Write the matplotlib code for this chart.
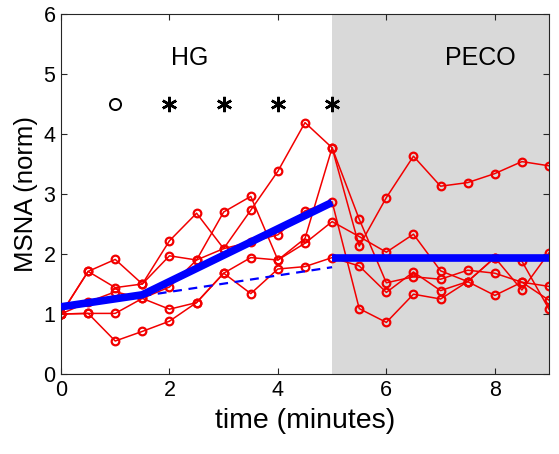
import numpy as np
import matplotlib
matplotlib.use('Agg')
import matplotlib.pyplot as plt

plt.rcParams['font.family'] = ['Liberation Sans', 'DejaVu Sans']

# time in minutes, one sample every 30 s
time = np.arange(0, 9.01, 0.5)

# individual subjects (normalised MSNA)
subj_a = [1.0, 1.71, 1.91, 1.50, 2.22, 2.68, 2.09, 2.73, 3.38, 4.19, 3.77,
          2.13, 2.94, 3.63, 3.13, 3.19, 3.34, 3.54, 3.47]
subj_b = [1.0, 1.71, 1.44, 1.50, 1.97, 1.90, 2.70, 2.96, 1.90, 2.26, 3.77,
          2.58, 1.52, 1.62, 1.58, 1.73, 1.68, 1.53, 1.23]
subj_c = [1.0, 1.20, 1.37, 1.26, 1.45, 1.90, 2.09, 2.20, 2.32, 2.72, 2.87,
          1.09, 0.86, 1.33, 1.25, 1.54, 1.94, 1.40, 2.02]
subj_d = [1.0, 1.01, 1.01, 1.26, 1.08, 1.19, 1.68, 1.94, 1.90, 2.18, 2.54,
          2.29, 2.03, 2.33, 1.72, 1.54, 1.31, 1.53, 1.46]
subj_e = [1.0, 1.01, 0.55, 0.71, 0.88, 1.19, 1.68, 1.34, 1.75, 1.79, 1.94,
          1.80, 1.36, 1.70, 1.39, 1.54, 1.94, 1.88, 1.08]
subjects = [subj_a, subj_b, subj_c, subj_d, subj_e]

# model fits
fit_hg_t = [0, 1.5, 5]
fit_hg_y = [1.12, 1.32, 2.86]
fit_lin_t = [1.5, 5]
fit_lin_y = [1.30, 1.78]
fit_peco_t = [5, 9]
fit_peco_y = [1.93, 1.93]

# significance markers
sig_t = [1, 2, 3, 4, 5]
sig_sym = ['o', '*', '*', '*', '*']
sig_level = 4.5

fig = plt.figure(figsize=(5.59, 4.54), dpi=100)
ax = fig.add_axes([61/559, 80/454, 488/559, 360/454])

ax.axvspan(5, 9, color='#d9d9d9', lw=0, zorder=0)

red = (0.95, 0, 0)
for s in subjects:
    ax.plot(time, s, color=red, lw=1.1, marker='o', ms=5.5,
            mfc='none', mec=red, mew=1.6, zorder=2)

ax.plot(fit_hg_t, fit_hg_y, color='#0000ff', lw=5.5, solid_capstyle='butt', zorder=3)
ax.plot(fit_lin_t, fit_lin_y, color='#0000ff', lw=1.6, ls=(0, (4, 3)), zorder=3)
ax.plot(fit_peco_t, fit_peco_y, color='#0000ff', lw=5.5, solid_capstyle='butt', zorder=3)

for t, m in zip(sig_t, sig_sym):
    if m == 'o':
        ax.plot(t, sig_level, marker='o', ms=8, mfc='none', mec='black', mew=1.4)
    else:
        ax.plot(t, sig_level, marker=(6, 2, 0), ms=11, mec='black', mew=1.8)

ax.text(2.37, 5.27, 'HG', fontsize=18, ha='center', va='center')
ax.text(7.73, 5.27, 'PECO', fontsize=18, ha='center', va='center')

ax.set_xlim(0, 9)
ax.set_ylim(0, 6)
ax.set_xticks([0, 2, 4, 6, 8])
ax.set_yticks([0, 1, 2, 3, 4, 5, 6])
ax.tick_params(direction='in', length=4, width=0.8, labelsize=15.5,
               top=True, right=True, color='#262626', pad=4)
for sp in ax.spines.values():
    sp.set_color('#262626')
    sp.set_linewidth(0.8)

ax.set_xlabel('time (minutes)', fontsize=20.5, labelpad=5)
ax.set_ylabel('MSNA (norm)', fontsize=18.5, labelpad=4)

fig.savefig('out.png', dpi=100)
